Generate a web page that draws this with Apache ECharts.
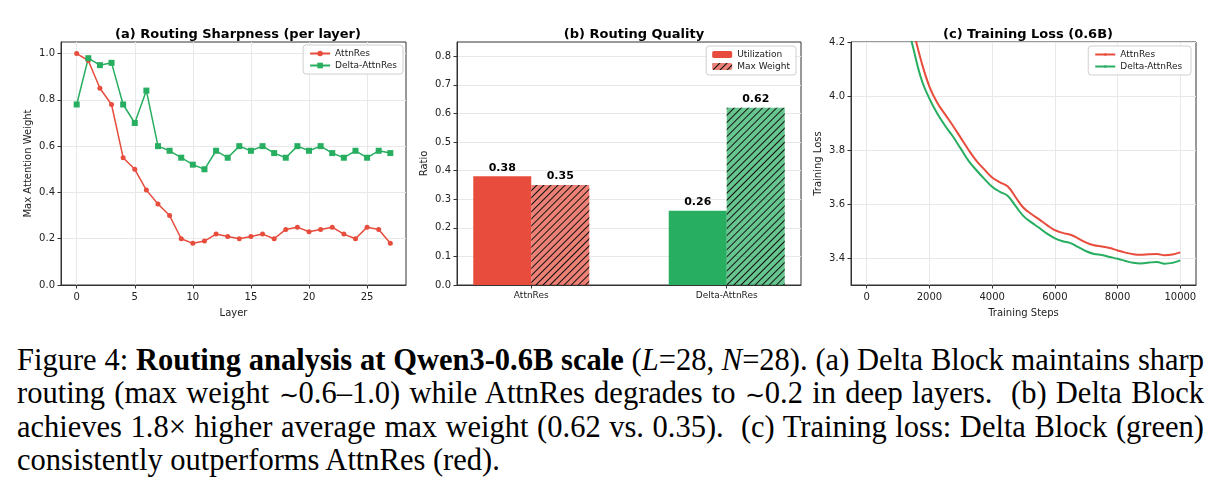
<!DOCTYPE html>
<html>
<head>
<meta charset="utf-8">
<script src="https://cdn.jsdelivr.net/npm/echarts@6/dist/echarts.min.js"></script>
<style>
  html, body { margin: 0; padding: 0; background: #fff; }
  #wrap { position: relative; width: 1220px; height: 490px; overflow: hidden; }
  #chart { position: absolute; left: 0; top: 0; width: 1220px; height: 335px; }
  #caption { position: absolute; left: 17px; top: 344px; width: 1187px;
    font-family: "Liberation Serif", "Times New Roman", serif; font-size: 30.5px; line-height: 32.5px; color: #000; }
  #caption .j { text-align: justify; text-align-last: justify; white-space: nowrap; }
  #caption .l { text-align: left; white-space: nowrap; }
  #caption .sim { font-size: 24px; }
</style>
</head>
<body>
<div id="wrap">
  <div id="chart"></div>
  <div id="caption">
    <div class="j">Figure 4: <b>Routing analysis at Qwen3-0.6B scale</b> (<i>L</i>=28, <i>N</i>=28). (a) Delta Block maintains sharp</div>
    <div class="j">routing (max weight <span class="sim">∼</span>0.6–1.0) while AttnRes degrades to <span class="sim">∼</span>0.2 in deep layers.&nbsp; (b) Delta Block</div>
    <div class="j">achieves 1.8× higher average max weight (0.62 vs. 0.35).&nbsp; (c) Training loss: Delta Block (green)</div>
    <div class="l">consistently outperforms AttnRes (red).</div>
  </div>
</div>
<script>
// ---------- data ----------
const seriesNames = ['AttnRes', 'Delta-AttnRes'];

// (a) Routing sharpness per layer
const layers = [0,1,2,3,4,5,6,7,8,9,10,11,12,13,14,15,16,17,18,19,20,21,22,23,24,25,26,27];
const sharpAttnRes = [1.00,0.97,0.85,0.78,0.55,0.50,0.41,0.35,0.30,0.20,0.18,0.19,0.22,0.21,0.20,0.21,0.22,0.20,0.24,0.25,0.23,0.24,0.25,0.22,0.20,0.25,0.24,0.18];
const sharpDelta   = [0.78,0.98,0.95,0.96,0.78,0.70,0.84,0.60,0.58,0.55,0.52,0.50,0.58,0.55,0.60,0.58,0.60,0.57,0.55,0.60,0.58,0.60,0.57,0.55,0.58,0.55,0.58,0.57];
const aXTicks = [0,5,10,15,20,25];
const aYTicks = [0,0.2,0.4,0.6,0.8,1.0];

// (b) Routing quality
const barCategories = ['AttnRes', 'Delta-AttnRes'];
const barMetrics = ['Utilization', 'Max Weight'];
const utilization = [0.38, 0.26];
const maxWeight = [0.35, 0.62];
const bYTicks = [0,0.1,0.2,0.3,0.4,0.5,0.6,0.7,0.8];

// (c) Training loss
const steps = [0,250,500,750,1000,1250,1500,1750,2000,2250,2500,2750,3000,3250,3500,3750,4000,4250,4500,4750,5000,5250,5500,5750,6000,6250,6500,6750,7000,7250,7500,7750,8000,8250,8500,8750,9000,9250,9500,9750,10000];
const lossAttnRes = [7.0,6.2,5.5,5.0,4.65,4.4,4.24,4.125,4.035,3.975,3.932,3.89,3.845,3.80,3.76,3.728,3.698,3.680,3.665,3.625,3.586,3.563,3.543,3.522,3.503,3.493,3.486,3.472,3.457,3.447,3.443,3.437,3.428,3.420,3.414,3.412,3.414,3.415,3.410,3.413,3.421];
const lossDelta   = [6.8,6.0,5.35,4.85,4.52,4.3,4.17,4.06,3.99,3.935,3.89,3.85,3.805,3.76,3.725,3.693,3.664,3.645,3.630,3.592,3.555,3.532,3.512,3.49,3.473,3.462,3.455,3.44,3.425,3.415,3.411,3.404,3.397,3.389,3.382,3.380,3.383,3.385,3.379,3.382,3.391];
const cXTicks = [0,2000,4000,6000,8000,10000];
const cYTicks = [3.4,3.6,3.8,4.0,4.2];

// ---------- styles ----------
const RED = '#e74c3c', GREEN = '#27ae60';
const RED_L = 'rgba(231,76,60,0.7)', GREEN_L = 'rgba(39,174,96,0.7)';
const FONT = 'DejaVu Sans';
const TXT = '#222';
const GRIDC = '#e8e8e8';
const FRAME = '#333';

function gridBox(left, width) {
  return { left: left, top: 42, width: width, height: 243, show: true, borderColor: FRAME, borderWidth: 1, backgroundColor: 'transparent' };
}
function valAxis(idx, opt) {
  return Object.assign({
    gridIndex: idx, type: 'value',
    axisLine: { show: true, onZero: false, lineStyle: { color: FRAME, width: 1 } },
    axisTick: { show: true, inside: false, length: 3.5, lineStyle: { color: FRAME } },
    axisLabel: { color: TXT, fontSize: 10, fontFamily: FONT },
    splitLine: { show: true, lineStyle: { color: GRIDC, width: 1 } },
    nameTextStyle: { color: TXT, fontSize: 10, fontFamily: FONT },
    nameLocation: 'middle'
  }, opt);
}
function legendBox(right, top, data) {
  return {
    right: right, top: top, orient: 'vertical', data: data,
    itemWidth: 20, itemHeight: 7, itemGap: 3,
    padding: [4, 6, 4, 6],
    backgroundColor: 'rgba(255,255,255,0.9)', borderColor: '#d0d0d0', borderWidth: 1, borderRadius: 3,
    textStyle: { fontSize: 9, fontFamily: FONT, color: TXT },
    selectedMode: false
  };
}
const fmt1 = v => v.toFixed(1);

const hatch = {
  symbol: 'rect', symbolSize: 1,
  dashArrayX: [1, 0], dashArrayY: [1, 3.8],
  rotation: -Math.PI / 4,
  color: '#111'
};
const titleStyle = { fontSize: 13, fontWeight: 'bold', color: '#000', fontFamily: FONT };

const option = {
  animation: false,
  backgroundColor: '#fff',
  textStyle: { fontFamily: FONT },
  title: [
    { text: '(a) Routing Sharpness (per layer)', left: 233, top: 23, textAlign: 'center', textStyle: titleStyle },
    { text: '(b) Routing Quality', left: 629, top: 23, textAlign: 'center', textStyle: titleStyle },
    { text: '(c) Training Loss (0.6B)', left: 1023, top: 23, textAlign: 'center', textStyle: titleStyle }
  ],
  legend: [
    legendBox(817, 45, seriesNames.map(n => ({ name: n }))),
    legendBox(424, 46, barMetrics),
    Object.assign(legendBox(29, 46, ['AttnRes ', 'Delta-AttnRes '].map(n => ({ name: n }))), { itemHeight: 3 })
  ],
  grid: [gridBox(61, 345), gridBox(457, 344), gridBox(851, 345)],
  xAxis: [
    valAxis(0, { min: -1.35, max: 28.35, name: 'Layer', nameGap: 23,
      axisTick: { show: true, length: 3.5, lineStyle: { color: FRAME }, customValues: aXTicks },
      axisLabel: { color: TXT, fontSize: 10, fontFamily: FONT, margin: 7, customValues: aXTicks, formatter: v => String(v) } }),
    valAxis(1, { min: -0.38, max: 1.38,
      axisTick: { show: true, length: 3.5, lineStyle: { color: FRAME }, customValues: [0, 1] },
      axisLabel: { color: TXT, fontSize: 9, fontFamily: FONT, margin: 6, customValues: [0, 1], formatter: v => barCategories[Math.round(v)] },
      splitLine: { show: false } }),
    valAxis(2, { min: -500, max: 10500, name: 'Training Steps', nameGap: 23,
      axisTick: { show: true, length: 3.5, lineStyle: { color: FRAME }, customValues: cXTicks },
      axisLabel: { color: TXT, fontSize: 10, fontFamily: FONT, margin: 7, customValues: cXTicks, formatter: v => String(v) } })
  ],
  yAxis: [
    valAxis(0, { min: 0, max: 1.05, name: 'Max Attention Weight', nameGap: 28,
      axisTick: { show: true, length: 3.5, lineStyle: { color: FRAME }, customValues: aYTicks },
      axisLabel: { color: TXT, fontSize: 10, fontFamily: FONT, margin: 6, customValues: aYTicks, formatter: fmt1 } }),
    valAxis(1, { min: 0, max: 0.85, name: 'Ratio', nameGap: 28,
      axisTick: { show: true, length: 3.5, lineStyle: { color: FRAME }, customValues: bYTicks },
      axisLabel: { color: TXT, fontSize: 10, fontFamily: FONT, margin: 6, customValues: bYTicks, formatter: fmt1 } }),
    valAxis(2, { min: 3.3, max: 4.2, name: 'Training Loss', nameGap: 28,
      axisTick: { show: true, length: 3.5, lineStyle: { color: FRAME }, customValues: cYTicks },
      axisLabel: { color: TXT, fontSize: 10, fontFamily: FONT, margin: 6, customValues: cYTicks, formatter: fmt1 } })
  ],
  series: [
    { name: seriesNames[0], type: 'line', xAxisIndex: 0, yAxisIndex: 0,
      data: layers.map((l, i) => [l, sharpAttnRes[i]]),
      symbol: 'circle', symbolSize: 5, color: RED,
      lineStyle: { width: 1.5, color: RED }, itemStyle: { color: RED } },
    { name: seriesNames[1], type: 'line', xAxisIndex: 0, yAxisIndex: 0,
      data: layers.map((l, i) => [l, sharpDelta[i]]),
      symbol: 'rect', symbolSize: 6, color: GREEN,
      lineStyle: { width: 1.5, color: GREEN }, itemStyle: { color: GREEN } },

    { name: barMetrics[0], type: 'bar', xAxisIndex: 1, yAxisIndex: 1,
      barWidth: 58, barGap: '0%',
      itemStyle: { color: RED },
      data: barCategories.map((c, i) => ({ value: [i, utilization[i]], itemStyle: { color: i === 0 ? RED : GREEN } })),
      label: { show: true, position: 'top', distance: 3, fontSize: 11, fontWeight: 'bold', color: '#000', fontFamily: FONT,
        formatter: p => p.value[1].toFixed(2) } },
    { name: barMetrics[1], type: 'bar', xAxisIndex: 1, yAxisIndex: 1,
      barWidth: 58, barGap: '0%',
      itemStyle: { color: RED_L, decal: hatch },
      data: barCategories.map((c, i) => ({ value: [i, maxWeight[i]], itemStyle: { color: i === 0 ? RED_L : GREEN_L, decal: hatch } })),
      label: { show: true, position: 'top', distance: 3, fontSize: 11, fontWeight: 'bold', color: '#000', fontFamily: FONT,
        formatter: p => p.value[1].toFixed(2) } },

    { name: 'AttnRes ', type: 'line', xAxisIndex: 2, yAxisIndex: 2,
      data: steps.map((s, i) => [s, lossAttnRes[i]]),
      showSymbol: false, symbol: 'none', smooth: 0.4, color: RED,
      lineStyle: { width: 2, color: RED } },
    { name: 'Delta-AttnRes ', type: 'line', xAxisIndex: 2, yAxisIndex: 2,
      data: steps.map((s, i) => [s, lossDelta[i]]),
      showSymbol: false, symbol: 'none', smooth: 0.4, color: GREEN,
      lineStyle: { width: 2, color: GREEN } }
  ]
};

const chart = echarts.init(document.getElementById('chart'), null, { renderer: 'canvas' });
chart.setOption(option);
</script>
</body>
</html>
